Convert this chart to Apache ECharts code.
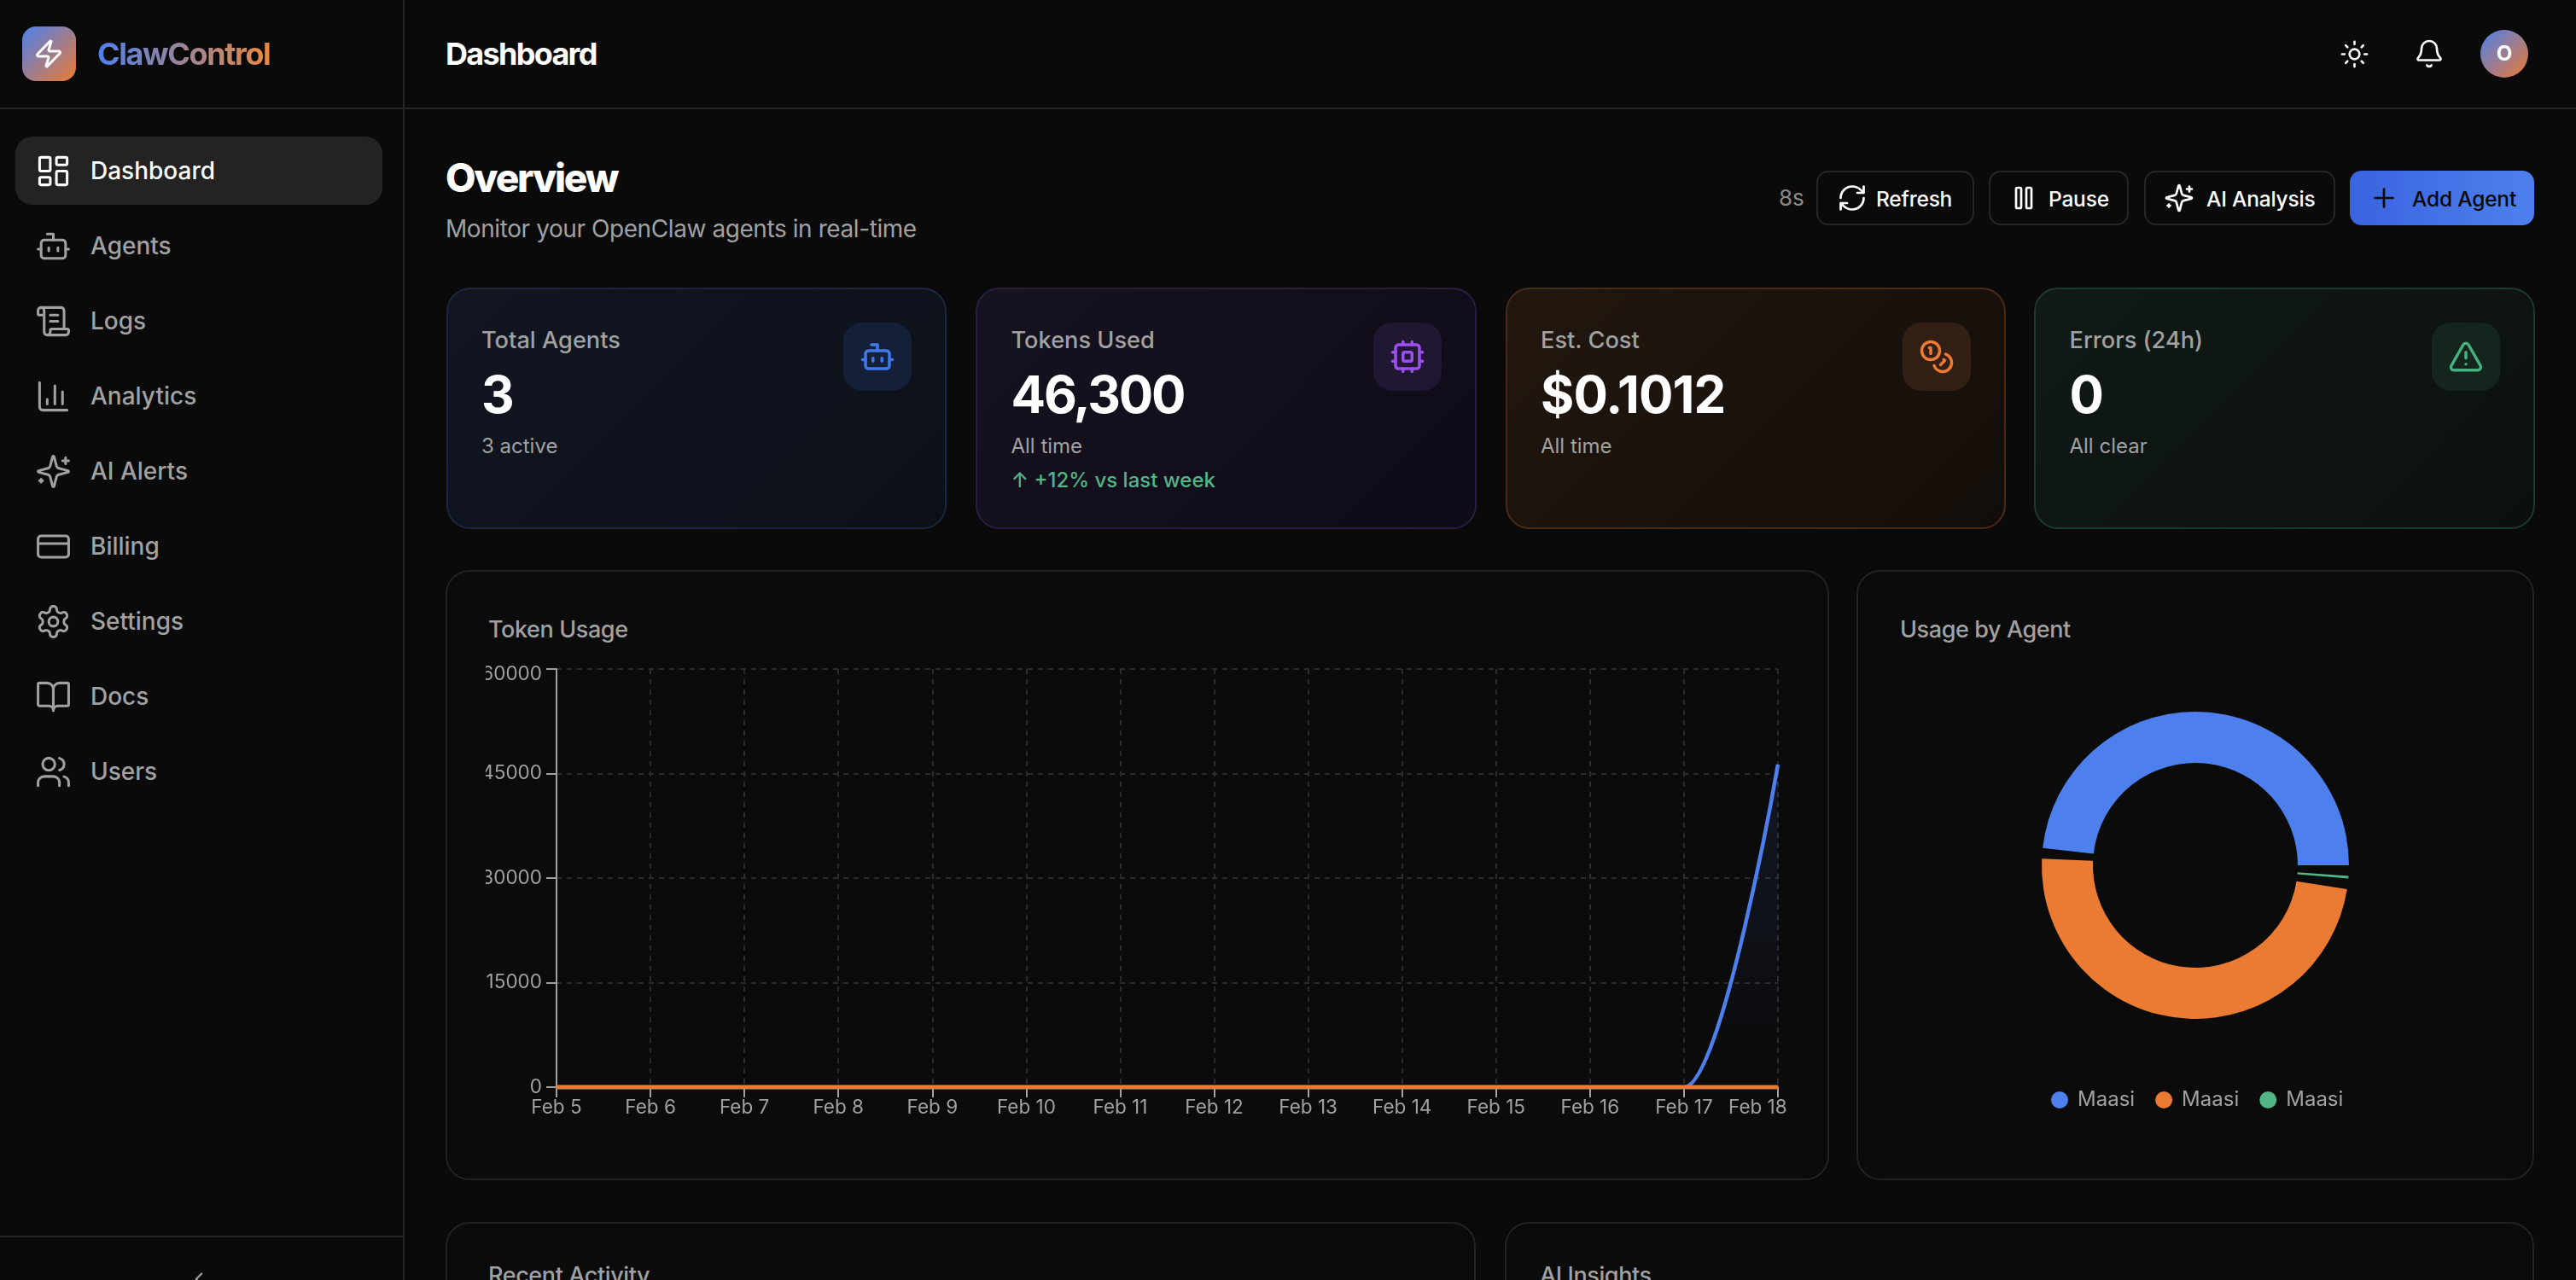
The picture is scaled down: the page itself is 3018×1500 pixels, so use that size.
<!DOCTYPE html>
<html lang="en">
<head>
<meta charset="utf-8">
<title>ClawControl Dashboard</title>
<script src="https://cdn.jsdelivr.net/npm/echarts@6/dist/echarts.min.js"></script>
<style>
* { box-sizing: border-box; margin: 0; padding: 0; }
html, body { width: 3018px; height: 1500px; overflow: hidden; background: #0a0a0a; font-family: Inter, "Noto Sans", sans-serif; color: #a1a1a1; }
.abs { position: absolute; white-space: nowrap; }
.rule { position: absolute; background: #262626; }
.logo { position: absolute; left: 26px; top: 31px; width: 63px; height: 64px; border-radius: 16px; background: linear-gradient(135deg, #4d80ed, #eb7a33); }
.brand { left: 114px; top: 41px; font-size: 36px; line-height: 44px; font-weight: 700; letter-spacing: -1.4px; background: linear-gradient(90deg, #4d80ed, #eb8a3f); -webkit-background-clip: text; background-clip: text; color: transparent; }
.nav-on { position: absolute; left: 18px; top: 160px; width: 430px; height: 80px; border-radius: 20px; background: #232323; }
.nav-text { left: 106px; font-size: 28px; line-height: 36px; font-weight: 500; }
.stat { position: absolute; top: 337px; width: 586.5px; height: 283px; border-radius: 28px; border: 2px solid; }
.stat .label { position: absolute; left: 39.5px; top: 43px; font-size: 27.2px; line-height: 34px; font-weight: 500; }
.stat .big { position: absolute; left: 39.5px; top: 87px; font-size: 60px; line-height: 72px; font-weight: 700; color: #fff; letter-spacing: -2.2px; }
.stat .sub { position: absolute; left: 39.5px; top: 169px; font-size: 24px; line-height: 30px; }
.stat .trend { position: absolute; left: 39.5px; top: 209px; font-size: 24px; line-height: 30px; color: #52b586; font-weight: 500; }
.stat .badge { position: absolute; right: 39px; top: 39px; width: 80px; height: 80px; border-radius: 22px; }
.btn { position: absolute; top: 200px; height: 64px; border-radius: 14px; border: 2px solid #262626; font-size: 24.5px; font-weight: 500; color: #fff; letter-spacing: -0.2px; }
.btn span { position: absolute; top: 15px; line-height: 32px; }
.panel { position: absolute; border: 2px solid #232323; border-radius: 28px; background: #0b0b0b; }
.panel-title { font-size: 27px; line-height: 34px; font-weight: 500; letter-spacing: -0.4px; }
svg { position: absolute; fill: none; stroke-linecap: round; stroke-linejoin: round; }
#token-chart { position: absolute; left: 569px; top: 770px; width: 1542px; height: 560px; }
#agent-chart { position: absolute; left: 2176px; top: 670px; width: 792px; height: 710px; }
</style>
</head>
<body>
<script>
// chart data
var dates = ['Feb 5', 'Feb 6', 'Feb 7', 'Feb 8', 'Feb 9', 'Feb 10', 'Feb 11', 'Feb 12', 'Feb 13', 'Feb 14', 'Feb 15', 'Feb 16', 'Feb 17', 'Feb 18'];
var tokensBlue = [0, 0, 0, 0, 0, 0, 0, 0, 0, 0, 0, 0, 0, 46300];
var tokensGreen = [0, 0, 0, 0, 0, 0, 0, 0, 0, 0, 0, 0, 0, 0];
var tokensOrange = [0, 0, 0, 0, 0, 0, 0, 0, 0, 0, 0, 0, 0, 0];
var agentKeys = ['agent-a', 'agent-b', 'agent-c'];
var agentNames = ['Maasi', 'Maasi', 'Maasi'];
var agentUsage = [22830, 22830, 640];

// page text
var navLabels = ['Dashboard', 'Agents', 'Logs', 'Analytics', 'AI Alerts', 'Billing', 'Settings', 'Docs', 'Users'];
var navIcons = ['dash', 'bot', 'scroll', 'bars', 'spark', 'card', 'gear', 'book', 'users'];
var navCentres = [200, 288, 376, 464, 552, 640, 728, 816, 904];

var blue = '#4d80ed', orange = '#eb7a33', green = '#52b586';

var icons = {
    zap: '<path d="M4 14a1 1 0 0 1-.78-1.63l9.9-10.2a.5.5 0 0 1 .86.46l-1.92 6.02A1 1 0 0 0 13 10h7a1 1 0 0 1 .78 1.63l-9.9 10.2a.5.5 0 0 1-.86-.46l1.92-6.02A1 1 0 0 0 11 14z"/>',
    dash: '<rect x="3" y="3" width="7" height="9" rx="1"/><rect x="14" y="3" width="7" height="5" rx="1"/><rect x="14" y="12" width="7" height="9" rx="1"/><rect x="3" y="16" width="7" height="5" rx="1"/>',
    bot: '<path d="M12 8V4H8"/><rect x="4" y="8" width="16" height="12" rx="2"/><path d="M2 14h2M20 14h2M15 13v2M9 13v2"/>',
    scroll: '<path d="M15 12h-5M15 8h-5M19 17V5a2 2 0 0 0-2-2H4"/><path d="M8 21h12a2 2 0 0 0 2-2v-1a1 1 0 0 0-1-1H11a1 1 0 0 0-1 1v1a2 2 0 1 1-4 0V5a2 2 0 1 0-4 0v2a1 1 0 0 0 1 1h3"/>',
    bars: '<path d="M3 3v16a2 2 0 0 0 2 2h16M18 17V9M13 17V5M8 17v-3"/>',
    spark: '<path d="M9.937 15.5A2 2 0 0 0 8.5 14.063l-6.135-1.582a.5.5 0 0 1 0-.962L8.5 9.936A2 2 0 0 0 9.937 8.5l1.582-6.135a.5.5 0 0 1 .963 0L14.063 8.5A2 2 0 0 0 15.5 9.937l6.135 1.581a.5.5 0 0 1 0 .964L15.5 14.063a2 2 0 0 0-1.437 1.437l-1.582 6.135a.5.5 0 0 1-.963 0z"/><path d="M20 3v4M22 5h-4M4 17v2M5 18H3"/>',
    card: '<rect x="2" y="5" width="20" height="14" rx="2"/><path d="M2 10h20"/>',
    gear: '<path d="M12.22 2h-.44a2 2 0 0 0-2 2v.18a2 2 0 0 1-1 1.73l-.43.25a2 2 0 0 1-2 0l-.15-.08a2 2 0 0 0-2.73.73l-.22.38a2 2 0 0 0 .73 2.73l.15.1a2 2 0 0 1 1 1.72v.51a2 2 0 0 1-1 1.74l-.15.09a2 2 0 0 0-.73 2.73l.22.38a2 2 0 0 0 2.73.73l.15-.08a2 2 0 0 1 2 0l.43.25a2 2 0 0 1 1 1.73V20a2 2 0 0 0 2 2h.44a2 2 0 0 0 2-2v-.18a2 2 0 0 1 1-1.73l.43-.25a2 2 0 0 1 2 0l.15.08a2 2 0 0 0 2.73-.73l.22-.39a2 2 0 0 0-.73-2.73l-.15-.08a2 2 0 0 1-1-1.74v-.5a2 2 0 0 1 1-1.74l.15-.09a2 2 0 0 0 .73-2.73l-.22-.38a2 2 0 0 0-2.73-.73l-.15.08a2 2 0 0 1-2 0l-.43-.25a2 2 0 0 1-1-1.73V4a2 2 0 0 0-2-2z"/><circle cx="12" cy="12" r="3"/>',
    book: '<path d="M12 7v14"/><path d="M3 18a1 1 0 0 1-1-1V4a1 1 0 0 1 1-1h5a4 4 0 0 1 4 4 4 4 0 0 1 4-4h5a1 1 0 0 1 1 1v13a1 1 0 0 1-1 1h-6a3 3 0 0 0-3 3 3 3 0 0 0-3-3z"/>',
    users: '<path d="M16 21v-2a4 4 0 0 0-4-4H6a4 4 0 0 0-4 4v2"/><circle cx="9" cy="7" r="4"/><path d="M22 21v-2a4 4 0 0 0-3-3.87M16 3.13a4 4 0 0 1 0 7.75"/>',
    sun: '<circle cx="12" cy="12" r="4"/><path d="M12 2v2M12 20v2M4.93 4.93l1.41 1.41M17.66 17.66l1.41 1.41M2 12h2M20 12h2M6.34 17.66l-1.41 1.41M19.07 4.93l-1.41 1.41"/>',
    bell: '<path d="M10.268 21a2 2 0 0 0 3.464 0"/><path d="M3.262 15.326A1 1 0 0 0 4 17h16a1 1 0 0 0 .74-1.673C19.41 13.956 18 12.499 18 8A6 6 0 0 0 6 8c0 4.499-1.411 5.956-2.738 7.326"/>',
    refresh: '<path d="M3 12a9 9 0 0 1 9-9 9.75 9.75 0 0 1 6.74 2.74L21 8M21 3v5h-5M21 12a9 9 0 0 1-9 9 9.75 9.75 0 0 1-6.74-2.74L3 16M8 16H3v5"/>',
    pause: '<rect x="14" y="4" width="4" height="16" rx="1"/><rect x="6" y="4" width="4" height="16" rx="1"/>',
    plus: '<path d="M5 12h14M12 5v14"/>',
    cpu: '<rect x="4" y="4" width="16" height="16" rx="2"/><rect x="9" y="9" width="6" height="6" rx="1"/><path d="M15 2v2M15 20v2M2 15h2M2 9h2M20 15h2M20 9h2M9 2v2M9 20v2"/>',
    coins: '<circle cx="8" cy="8" r="6"/><path d="M18.09 10.37A6 6 0 1 1 10.34 18M7 6h1v4M16.71 13.88l.7.71-2.82 2.82"/>',
    alert: '<path d="M21.73 18l-8-14a2 2 0 0 0-3.48 0l-8 14A2 2 0 0 0 4 21h16a2 2 0 0 0 1.73-3"/><path d="M12 9v4M12 17h.01"/>',
    chevron: '<path d="M15 18l-6-6 6-6"/>'
};

function ico(name, cx, cy, size, color, sw) {
    return '<svg style="left:' + (cx - size / 2) + 'px;top:' + (cy - size / 2) + 'px" width="' + size + '" height="' + size +
        '" viewBox="0 0 24 24" stroke="' + color + '" stroke-width="' + (sw || 2) + '">' + icons[name] + '</svg>';
}

function text(cls, style, str) {
    return '<div class="abs ' + cls + '" style="' + style + '">' + str + '</div>';
}

function statCard(left, border, bg, badge, color, icon, label, big, sub, trend) {
    return '<div class="stat" style="left:' + left + 'px;border-color:' + border + ';background:' + bg + '">' +
        '<div class="label">' + label + '</div><div class="big">' + big + '</div><div class="sub">' + sub + '</div>' +
        (trend ? '<div class="trend">' + trend + '</div>' : '') +
        '<div class="badge" style="background:' + badge + '">' + ico(icon, 40, 40, 42, color) + '</div></div>';
}

var html = '';

// sidebar
html += '<div class="rule" style="left:472px;top:0;width:2px;height:1500px"></div>';
html += '<div class="rule" style="left:0;top:126px;width:3018px;height:2px"></div>';
html += '<div class="rule" style="left:0;top:1448px;width:472px;height:2px"></div>';
html += '<div class="logo">' + ico('zap', 31, 32, 36, '#fff') + '</div>';
html += text('brand', '', 'ClawControl');
html += '<div class="nav-on"></div>';
navLabels.forEach(function(label, i) {
    var color = i === 0 ? '#fff' : '#a1a1a1';
    html += ico(navIcons[i], 62, navCentres[i], 43, color, 1.7);
    html += text('nav-text', 'top:' + (navCentres[i] - 18) + 'px;color:' + color, label);
});
html += ico('chevron', 233, 1499, 26, '#a1a1a1');

// top bar
html += text('', 'left:522px;top:41px;font-size:36px;line-height:44px;font-weight:700;color:#fff;letter-spacing:-1.7px', 'Dashboard');
html += ico('sun', 2758, 63, 35, '#fff', 1.8);
html += ico('bell', 2846, 63, 36, '#fff', 1.8);
html += '<div class="abs" style="left:2906px;top:35px;width:56px;height:56px;border-radius:50%;background:linear-gradient(135deg,#4d80ed,#eb7a33);color:#fff;font-size:24px;font-weight:700;line-height:56px;text-align:center">O</div>';

// heading row
html += text('', 'left:522px;top:180px;font-size:46px;line-height:56px;font-weight:800;color:#fff;letter-spacing:-2.2px', 'Overview');
html += text('', 'left:522px;top:250px;font-size:28px;line-height:36px;letter-spacing:-0.42px', 'Monitor your OpenClaw agents in real-time');
html += text('', 'left:2084px;top:216px;font-size:26px;line-height:32px;color:#8a8a8a', '8s');
html += '<div class="btn" style="left:2128px;width:185px">' + ico('refresh', 40, 30, 36, '#fff', 1.8) + '<span style="left:68px">Refresh</span></div>';
html += '<div class="btn" style="left:2330px;width:164px">' + ico('pause', 39, 30, 36, '#fff', 1.8) + '<span style="left:68px">Pause</span></div>';
html += '<div class="btn" style="left:2512px;width:224px">' + ico('spark', 39, 30, 36, '#fff', 1.8) + '<span style="left:71px">AI Analysis</span></div>';
html += '<div class="btn" style="left:2753px;width:216px;border:0;color:#0a0a0a;background:linear-gradient(90deg,#3b63e0,#4d80ed)">' + ico('plus', 40, 32, 36, '#0a0a0a', 1.8) + '<span style="left:73px;top:17px">Add Agent</span></div>';

// stat cards
html += statCard(522.5, '#1b2740', 'linear-gradient(135deg,#111622,#0b1018)', '#14203a', '#3f78ea', 'bot', 'Total Agents', '3', '3 active');
html += statCard(1143, '#2b1d42', 'linear-gradient(135deg,#17121f,#0f0a17)', '#211733', '#9a50ef', 'cpu', 'Tokens Used', '46,300', 'All time', '\u2191 +12% vs last week');
html += statCard(1763.5, '#482b17', 'linear-gradient(135deg,#21170f,#130d09)', '#332014', '#eb7a33', 'coins', 'Est. Cost', '<span style="letter-spacing:-0.9px">$0.1012</span>', 'All time');
html += statCard(2383, '#1b3a2b', 'linear-gradient(135deg,#111a16,#0b100e)', '#14251e', '#46b07f', 'alert', 'Errors (24h)', '0', 'All clear');

// chart panels
html += '<div class="panel" style="left:522px;top:668px;width:1621px;height:715px"></div>';
html += '<div class="panel" style="left:2175px;top:668px;width:794px;height:715px"></div>';
html += '<div class="panel" style="left:522px;top:1432px;width:1207px;height:200px"></div>';
html += '<div class="panel" style="left:1763px;top:1432px;width:1206px;height:200px"></div>';
html += text('panel-title', 'left:572px;top:721px', 'Token Usage');
html += text('panel-title', 'left:2226px;top:721px', 'Usage by Agent');
html += text('panel-title', 'left:572px;top:1478px', 'Recent Activity');
html += text('panel-title', 'left:1804px;top:1478px', 'AI Insights');
html += '<div id="token-chart"></div><div id="agent-chart"></div>';

document.body.innerHTML = html;

var tokenChart = echarts.init(document.getElementById('token-chart'));
var agentChart = echarts.init(document.getElementById('agent-chart'));

var axisColor = '#a1a1a1';
var gridLine = { show: true, lineStyle: { color: '#2b2b2b', width: 2, type: [6, 6] } };

tokenChart.setOption({
    animation: false,
    backgroundColor: 'transparent',
    textStyle: { fontFamily: 'Inter' },
    grid: { left: 83, top: 14, width: 1431, height: 490, outerBoundsMode: 'none' },
    xAxis: {
        type: 'category',
        data: dates,
        boundaryGap: false,
        axisLine: { lineStyle: { color: axisColor, width: 2 } },
        axisTick: { length: 12, lineStyle: { color: axisColor, width: 2 } },
        axisLabel: {
            interval: 0, hideOverlap: false, margin: 13, color: axisColor, fontSize: 22.5,
            formatter: function(value, index) {
                return index === dates.length - 1 ? '{last|' + value + '}' : value;
            },
            alignMaxLabel: 'right',
            rich: { last: { width: 58, align: 'left', color: axisColor, fontSize: 22.5, fontFamily: 'Inter' } }
        },
        splitLine: gridLine
    },
    yAxis: {
        type: 'value',
        min: 0,
        max: 60000,
        interval: 15000,
        axisLine: { show: true, lineStyle: { color: axisColor, width: 2 } },
        axisTick: { show: true, length: 12, lineStyle: { color: axisColor, width: 2 } },
        axisLabel: {
            margin: 17, color: axisColor, fontSize: 22.5,
            formatter: function(value) {
                return value === 60000 ? '{top|' + value + '}' : '' + value;
            },
            rich: { top: { padding: [12, 0, 0, 0], color: axisColor, fontSize: 22.5, fontFamily: 'Inter' } }
        },
        splitLine: gridLine
    },
    series: [{
        type: 'line',
        data: tokensBlue,
        smooth: 0.4,
        smoothMonotone: 'x',
        clip: false,
        showSymbol: false,
        lineStyle: { color: blue, width: 4.5 },
        areaStyle: {
            color: new echarts.graphic.LinearGradient(0, 0, 0, 1, [
                { offset: 0, color: 'rgba(77,128,237,0.16)' },
                { offset: 1, color: 'rgba(77,128,237,0)' }
            ])
        }
    }, {
        type: 'line',
        data: tokensGreen,
        clip: false,
        showSymbol: false,
        lineStyle: { color: green, width: 4.5 }
    }, {
        type: 'line',
        data: tokensOrange,
        clip: false,
        showSymbol: false,
        lineStyle: { color: orange, width: 4.5 }
    }]
});

agentChart.setOption({
    animation: false,
    backgroundColor: 'transparent',
    textStyle: { fontFamily: 'Inter' },
    color: [blue, orange, green],
    legend: {
        left: 222,
        top: 602,
        icon: 'circle',
        itemWidth: 20,
        itemHeight: 20,
        itemGap: 24,
        data: agentKeys,
        formatter: function(key) {
            return agentNames[agentKeys.indexOf(key)];
        },
        textStyle: { color: '#a1a1a1', fontSize: 24, padding: [0, 0, 0, 6] }
    },
    series: [{
        type: 'pie',
        center: [396, 344],
        radius: [120, 180],
        startAngle: -2,
        clockwise: false,
        padAngle: 4,
        label: { show: false },
        labelLine: { show: false },
        data: agentKeys.map(function(key, i) {
            return { name: key, value: agentUsage[i] };
        })
    }]
});
</script>
</body>
</html>
